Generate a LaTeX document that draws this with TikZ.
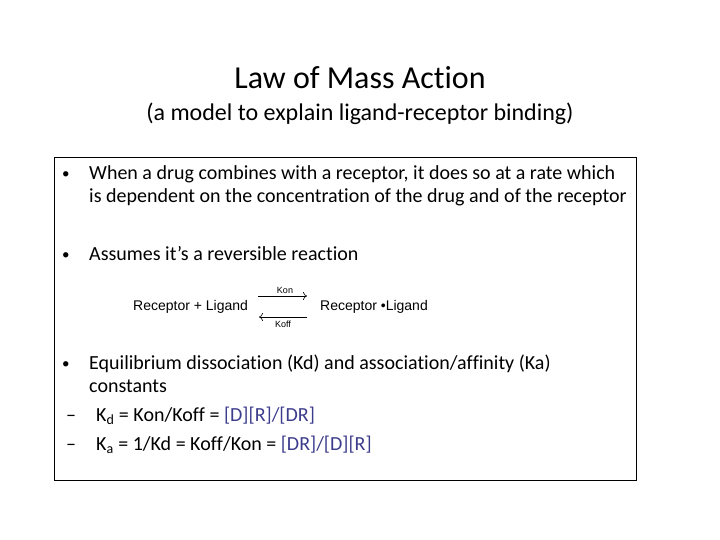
\documentclass[tikz,border=0pt]{standalone}
\usepackage{fontspec}
\setmainfont[Ligatures={NoCommon,NoRequired,NoContextual,NoRare}, Contextuals={NoAlternate}]{Carlito}
\newfontfamily\rxfont{Liberation Sans}
\usetikzlibrary{arrows.meta}
\definecolor{bracketblue}{RGB}{60,60,140}
\tikzset{
	bodytext/.style={anchor=base west, inner sep=0pt, font=\fontsize{20}{24}\selectfont},
	bullettext/.style={anchor=base west, inner sep=0pt, font=\fontsize{15}{18}\selectfont},
	rxtext/.style={anchor=base west, inner sep=0pt, font=\rxfont\fontsize{14}{16}\selectfont},
	ratetext/.style={inner sep=0pt, font=\rxfont\fontsize{9}{10}\selectfont},
	rxarrow/.style={-{To[length=4pt, width=8pt]}, line width=0.6pt},
}

\begin{document}
\begin{tikzpicture}[x=1pt, y=-1pt]
			%%%%% START %%%%%
			
			\useasboundingbox (0, 0) rectangle (720, 540);
			
			\node[anchor=base, inner sep=0pt, font=\fontsize{32}{38}\selectfont] (title) at (360, 89) {Law of Mass Act\kern0pt ion};
			\node[anchor=base, inner sep=0pt, font=\fontsize{24}{28}\selectfont] (subtitle) at (360, 121) {(a model to explain ligand-receptor binding)};
			
			\draw[line width=1pt] (54, 158) rectangle (636, 480);
			
			\node[bullettext] (b1) at (62, 179) {\textbullet};
			\node[bodytext] (drug1) at (89, 180) {When a drug combines with a receptor, it does so at a rate which};
			\node[bodytext] (drug2) at (89, 203) {is dependent on the concentrat\kern0pt ion of the drug and of the receptor};
			
			\node[bullettext] (b2) at (62, 259) {\textbullet};
			\node[bodytext] (revers) at (89, 260) {Assumes it’s a reversible react\kern0pt ion};
			
			\node[rxtext] (free) at (133, 310) {Receptor + Ligand};
			\node[rxtext] (bound) at (320, 310) {Receptor \textbullet Ligand};
			\coordinate (onA) at (258, 296);
			\coordinate (onB) at (307, 296);
			\coordinate (offA) at (307, 317);
			\coordinate (offB) at (259, 317);
			\draw[rxarrow] (onA) -- (onB);
			\draw[rxarrow] (offA) -- (offB);
			\node[ratetext] (kon) at (285, 290) {Kon};
			\node[ratetext] (koff) at (283, 324) {Koff};
			
			\node[bullettext] (b3) at (62, 368) {\textbullet};
			\node[bodytext] (equil1) at (89, 369) {Equilibrium dissociat\kern0pt ion (Kd) and associat\kern0pt ion/af\kern0pt f\kern0pt inity (Ka)};
			\node[bodytext] (equil2) at (89, 392) {constants};
			
			\node[bodytext] (d1) at (66, 421) {–};
			\node[bodytext] (kd) at (96, 421) {K\textsubscript{d} = Kon/Kof\kern0pt f = \textcolor{bracketblue}{[D][R]/[DR]}};
			\node[bodytext] (d2) at (66, 450) {–};
			\node[bodytext] (ka) at (96, 450) {K\textsubscript{a} = 1/Kd = Kof\kern0pt f/Kon = \textcolor{bracketblue}{[DR]/[D][R]}};
			
			%%%%% END %%%%%
\end{tikzpicture}
\end{document}
